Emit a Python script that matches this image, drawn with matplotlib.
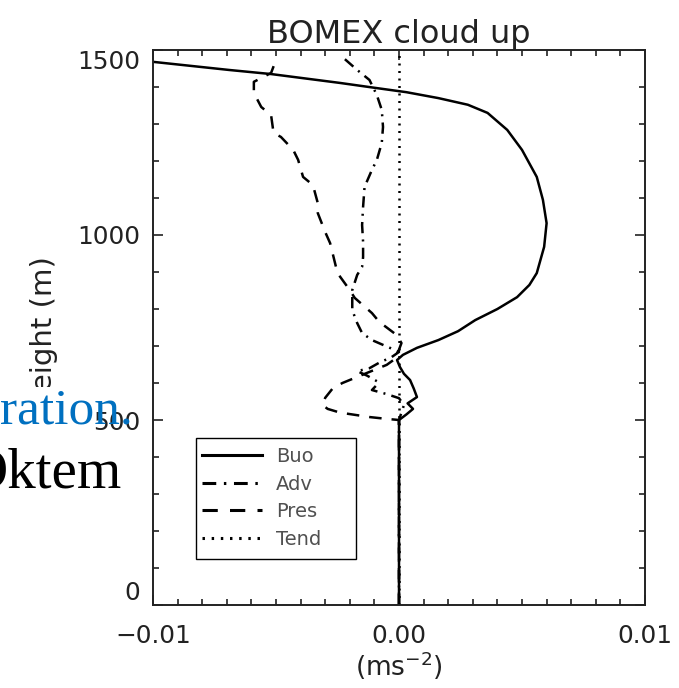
import matplotlib
matplotlib.use('Agg')
import matplotlib.pyplot as plt
from matplotlib.ticker import MultipleLocator
from matplotlib.lines import Line2D
from matplotlib.patches import Rectangle

# vertical profiles of the updraft momentum budget (height in m, value in m s^-2)
buo_h = [0, 495, 500, 515, 530, 545, 562, 585, 608, 625, 643, 662, 676, 695, 716, 740,
         770, 800, 832, 865, 897, 968, 1032, 1095, 1157, 1230, 1284, 1330, 1352, 1370, 1386,
         1397, 1411, 1435, 1446, 1468, 1476]
buo = [0.0, 0.0, 0.0, 0.0003, 0.00057, 0.00035, 0.00073, 0.0006, 0.00045, 0.0002, 0.00004,
       -0.00008, 0.00016, 0.00073, 0.0016, 0.0024, 0.0031, 0.0040, 0.0048, 0.0053, 0.0056,
       0.0059, 0.0060, 0.00585, 0.0056, 0.0050, 0.0044, 0.0036, 0.0028, 0.0016, 0.0003,
       -0.0009, -0.0024, -0.0052, -0.0069, -0.0100, -0.0115]

adv_h = [0, 500, 520, 540, 559, 570, 581, 595, 603, 620, 632, 640, 655, 670, 684, 695, 703,
         716, 735, 762, 797, 851, 892, 914, 940, 981, 1027, 1076, 1130, 1176, 1203, 1249,
         1292, 1338, 1378, 1419, 1446, 1481]
adv = [0.0, 0.0, 0.0001, 0.0002, 0.0, -0.0005, -0.0011, -0.0009, -0.00085, -0.0013, -0.0017,
       -0.0012, -0.0008, -0.0003, 0.0, -0.00037, -0.00065, -0.0011, -0.0015, -0.0017, -0.0019,
       -0.0019, -0.0017, -0.0015, -0.00146, -0.00146, -0.0015, -0.00146, -0.0014, -0.0011,
       -0.0009, -0.0007, -0.00065, -0.0007, -0.0009, -0.0012, -0.0017, -0.0023]

pres_h = [0, 495, 500, 503, 508, 514, 520, 530, 540, 560, 585, 600, 630, 649, 668, 690, 708,
          730, 765, 789, 830, 851, 897, 924, 978, 1008, 1059, 1086, 1135, 1157, 1203, 1230,
          1265, 1276, 1324, 1346, 1384, 1414, 1438, 1473]
pres = [0.0, 0.0, 0.0, -0.0005, -0.0012, -0.0018, -0.0024, -0.0029, -0.0031, -0.0030, -0.0027,
        -0.0023, -0.0012, -0.0005, -0.0001, 0.0, 0.0001, -0.0001, -0.0008, -0.0011, -0.0018,
        -0.0020, -0.0025, -0.0026, -0.0028, -0.0030, -0.0033, -0.0033, -0.0035, -0.0039,
        -0.0041, -0.0043, -0.0048, -0.0051, -0.0052, -0.0056, -0.0059, -0.0059, -0.0052,
        -0.0050]

tend_h = [0, 500, 1000, 1500]
tend = [0.0, 0.0, 0.0, 0.0]

labels = ['Buo', 'Adv', 'Pres', 'Tend']
xticks = [-0.01, 0.0, 0.01]
xticklabels = ['\u22120.01', '0.00', '0.01']
yticks = [0, 500, 1000, 1500]

lw = 1.8
styles = ['-', (0, (4.5, 2.5, 0.8, 2.5)), (0, (5, 4)), (0, (0.8, 2.2))]
ink = '#222222'

fig = plt.figure(figsize=(6.79, 6.88), dpi=100)
ax = fig.add_axes([153 / 679, 1 - 605 / 688, 492 / 679, 555 / 688])

ax.plot(tend, tend_h, color='black', lw=lw, ls=styles[3])
ax.plot(pres, pres_h, color='black', lw=lw, ls=styles[2])
ax.plot(adv, adv_h, color='black', lw=lw, ls=styles[1])
ax.plot(buo, buo_h, color='black', lw=lw, ls=styles[0])

ax.set_xlim(-0.01, 0.01)
ax.set_ylim(0, 1500)
ax.set_xticks(xticks)
ax.set_xticklabels(xticklabels)
ax.set_yticks(yticks)
ax.set_yticklabels([str(v) for v in yticks])
ax.xaxis.set_minor_locator(MultipleLocator(0.001))
ax.yaxis.set_minor_locator(MultipleLocator(100))
ax.tick_params(which='both', direction='in', top=True, right=True, width=1.2,
               colors=ink, labelsize=17.8)
ax.tick_params(which='major', length=7)
ax.tick_params(which='minor', length=4.5)
ax.tick_params(axis='x', which='major', pad=14)
ax.tick_params(axis='y', which='major', pad=9)
for s in ax.spines.values():
    s.set_linewidth(1.4)
    s.set_color(ink)

# keep end labels inside the axis range
ylabs = ax.get_yticklabels()
ylabs[0].set_verticalalignment('bottom')
ylabs[-1].set_verticalalignment('top')

ax.set_title('BOMEX cloud up', fontsize=23, color=ink, pad=5)
ax.set_xlabel('(ms$^{-2}$)', fontsize=19, color=ink, labelpad=1)
ax.set_ylabel('Height (m)', fontsize=21, color=ink, labelpad=14)
ax.yaxis.label.set_y(0.488)

# legend box drawn separately so it can be wider than its entries
ax.add_patch(Rectangle((0.0874, 0.0829), 0.325, 0.218, transform=ax.transAxes,
                       facecolor='white', edgecolor='black', lw=1.0, zorder=5))
handles = [Line2D([], [], color='black', lw=2.2, ls=s) for s in styles]
leg = ax.legend(handles, labels, loc='upper left', bbox_to_anchor=(0.0996, 0.2847),
                borderaxespad=0, borderpad=0, fontsize=14, handlelength=3.1,
                handletextpad=0.72, labelspacing=0.44, frameon=False)
leg.set_zorder(6)
for t in leg.get_texts():
    t.set_color('#505050')

# surrounding page text
fig.patches.append(Rectangle((20 / 679, 1 - 414 / 688), 42 / 679, 27 / 688,
                             transform=fig.transFigure, facecolor='white',
                             edgecolor='none', zorder=1))
fig.text(0.0, 1 - 423 / 688, 'ration.', color='#0070C0', family='Liberation Serif',
         fontsize=37, va='baseline', ha='left')
fig.text(-0.0486, 1 - 488 / 688, 'Oktem', color='black', family='Liberation Serif',
         fontsize=41, va='baseline', ha='left')

fig.savefig('out.png', dpi=100)
